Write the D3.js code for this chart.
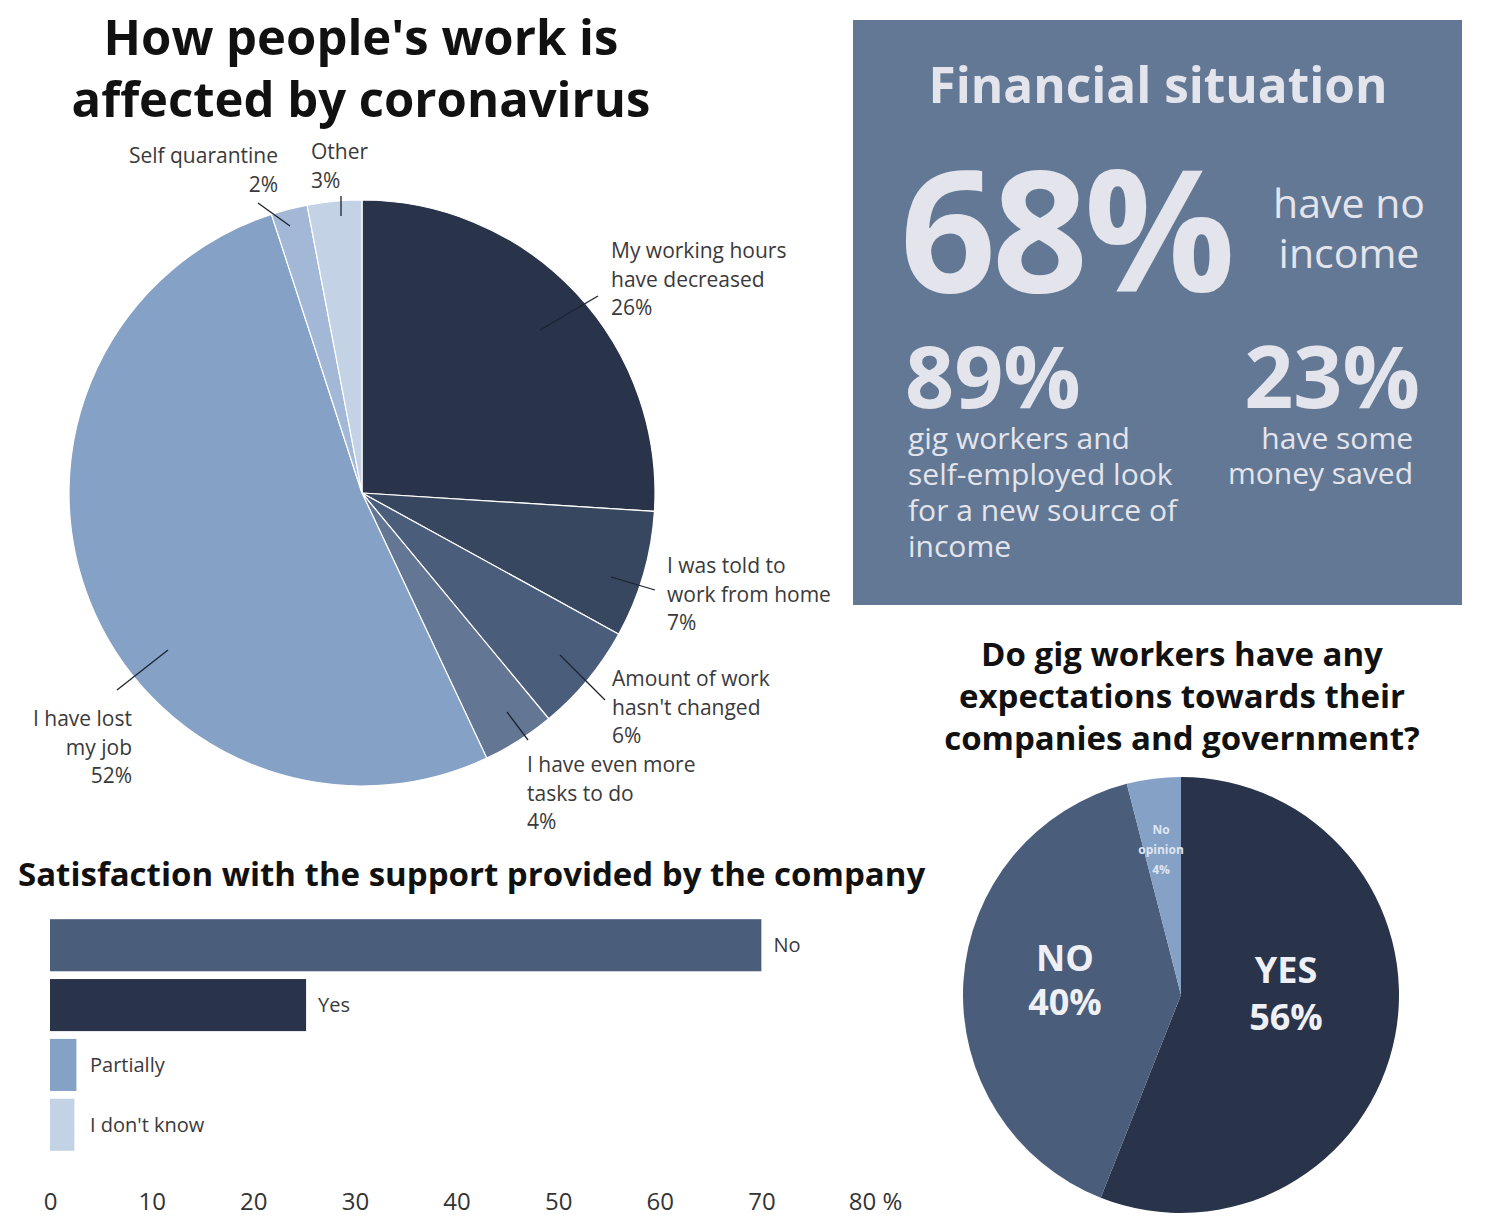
<!DOCTYPE html>
<html>
<head>
<meta charset="utf-8">
<script src="https://cdn.jsdelivr.net/npm/d3@7"></script>
<style>
  body { margin: 0; background: #fff; }
  svg { display: block; font-family: "Open Sans", "Noto Sans", sans-serif; }
</style>
</head>
<body>
<svg id="board" width="1498" height="1226"></svg>
<script>
// pie 1: how work is affected
var workCats = ["My working hours have decreased", "I was told to work from home", "Amount of work hasn't changed",
  "I have even more tasks to do", "I have lost my job", "Self quarantine", "Other"];
var workVals = [26, 7, 6, 4, 52, 2, 3];
var workLines = [["My working hours", "have decreased"], ["I was told to", "work from home"], ["Amount of work", "hasn't changed"],
  ["I have even more", "tasks to do"], ["I have lost", "my job"], ["Self quarantine"], ["Other"]];

// bar chart: satisfaction with company support
var satCats = ["No", "Yes", "Partially", "I don't know"];
var satVals = [70, 25.2, 2.6, 2.4];
var satTicks = [0, 10, 20, 30, 40, 50, 60, 70, 80];

// pie 2: expectations
var expCats = ["YES", "NO", "No opinion"];
var expVals = [56, 40, 4];

// financial situation numbers
var finBig = "68%";
var finSmall = ["89%", "23%"];

var colors = ["#29344a", "#37475f", "#4a5d7b", "#637794", "#86a1c6", "#a2b8d6", "#c4d2e6"];

var svg = d3.select("#board");

// ---------- pie 1 ----------
var cx = 362, cy = 493, R = 293;
var pie = d3.pie().sort(null).value(function(d){ return d; });
var arc = d3.arc().innerRadius(0).outerRadius(R);
var g1 = svg.append("g").attr("transform", "translate(" + cx + "," + cy + ")");
g1.selectAll("path").data(pie(workVals)).enter().append("path")
  .attr("d", arc)
  .attr("fill", function(d, i){ return colors[i]; })
  .attr("stroke", "#fff").attr("stroke-width", 1.2);

// label placement (layout only)
var lab1 = [
  {x: 611, y: 258, anchor: "start", l: [[540, 330], [598, 296]]},
  {x: 667, y: 573, anchor: "start", l: [[611, 577], [655, 590]]},
  {x: 612, y: 686, anchor: "start", l: [[560, 655], [605, 700]]},
  {x: 527, y: 772, anchor: "start", l: [[507, 712], [528, 740]]},
  {x: 132, y: 726, anchor: "end", l: [[168, 650], [117, 690]]},
  {x: 278, y: 163, anchor: "end", l: [[290, 226], [258, 203]]},
  {x: 311, y: 159, anchor: "start", l: [[341, 216], [341, 196]]}
];
var lab1Text = svg.append("g").attr("font-size", 21).attr("fill", "#3a3a3a");
lab1.forEach(function(p, i){
  var t = lab1Text.append("text").attr("text-anchor", p.anchor);
  var lines = workLines[i].concat([workVals[i] + "%"]);
  lines.forEach(function(s, k){
    t.append("tspan").attr("x", p.x).attr("y", p.y + k * 28.5).text(s);
  });
  svg.append("line").attr("x1", p.l[0][0]).attr("y1", p.l[0][1]).attr("x2", p.l[1][0]).attr("y2", p.l[1][1])
    .attr("stroke", "#1b2230").attr("stroke-width", 1.3);
});

// title
svg.append("text").attr("text-anchor", "middle").attr("font-size", 49).attr("font-weight", 700).attr("fill", "#111")
  .selectAll("tspan").data(["How people's work is", "affected by coronavirus"]).enter().append("tspan")
  .attr("x", 361).attr("y", function(d, i){ return 55 + i * 62; }).text(function(d){ return d; });

// ---------- financial box ----------
svg.append("rect").attr("x", 853).attr("y", 20).attr("width", 609).attr("height", 585).attr("fill", "#627894");
var fc = "#e4e4ec";
svg.append("text").attr("x", 1158).attr("y", 103).attr("text-anchor", "middle").attr("font-size", 49.5)
  .attr("font-weight", 700).attr("fill", fc).text("Financial situation");
svg.append("text").attr("x", 900).attr("y", 292).attr("font-size", 168).attr("font-weight", 700)
  .attr("fill", fc).attr("letter-spacing", -4).text(finBig);
svg.append("text").attr("text-anchor", "middle").attr("font-size", 41).attr("fill", fc)
  .selectAll("tspan").data(["have no", "income"]).enter().append("tspan")
  .attr("x", 1349).attr("y", function(d, i){ return 218 + i * 50; }).text(function(d){ return d; });
svg.append("text").attr("x", 905).attr("y", 408).attr("font-size", 86).attr("font-weight", 700)
  .attr("fill", fc).text(finSmall[0]);
svg.append("text").attr("x", 1420).attr("y", 408).attr("text-anchor", "end").attr("font-size", 86).attr("font-weight", 700)
  .attr("fill", fc).text(finSmall[1]);
svg.append("text").attr("font-size", 30).attr("fill", fc)
  .selectAll("tspan").data(["gig workers and", "self-employed look", "for a new source of", "income"]).enter().append("tspan")
  .attr("x", 908).attr("y", function(d, i){ return 449 + i * 36; }).text(function(d){ return d; });
svg.append("text").attr("font-size", 30).attr("fill", fc).attr("text-anchor", "end")
  .selectAll("tspan").data(["have some", "money saved"]).enter().append("tspan")
  .attr("x", 1413).attr("y", function(d, i){ return 449 + i * 35; }).text(function(d){ return d; });

// ---------- bar chart ----------
svg.append("text").attr("x", 18).attr("y", 886).attr("font-size", 33).attr("font-weight", 700).attr("fill", "#111")
  .text("Satisfaction with the support provided by the company");
var x = d3.scaleLinear().domain([0, 80]).range([50, 863]);
var y = d3.scaleBand().domain(satCats).range([918, 1152]).paddingInner(0.13).paddingOuter(0.02);
var barColors = [colors[2], colors[0], colors[4], colors[6]];
svg.selectAll("rect.bar").data(satVals).enter().append("rect").attr("class", "bar")
  .attr("x", x(0)).attr("y", function(d, i){ return y(satCats[i]); })
  .attr("width", function(d){ return x(d) - x(0); }).attr("height", y.bandwidth())
  .attr("fill", function(d, i){ return barColors[i]; });
svg.selectAll("text.blab").data(satVals).enter().append("text").attr("class", "blab")
  .attr("x", function(d){ return Math.max(x(d) + 12, 90); }).attr("y", function(d, i){ return y(satCats[i]) + y.bandwidth() / 2 + 7; })
  .attr("font-size", 20).attr("fill", "#3a3a3a").text(function(d, i){ return satCats[i]; });
var ax = svg.append("g").attr("transform", "translate(0,1191)")
  .call(d3.axisBottom(x).tickValues(satTicks).tickSize(0).tickPadding(0)
    .tickFormat(function(d){ return d === 80 ? "80 %" : d; }));
ax.select(".domain").remove();
ax.selectAll("text").attr("font-size", 24).attr("fill", "#333").attr("font-family", "Open Sans, sans-serif")
  .attr("dy", "0.8em")
  .attr("dx", function(d){ return d === 80 ? "0.5em" : 0; });

// ---------- pie 2 ----------
svg.append("text").attr("text-anchor", "middle").attr("font-size", 33).attr("font-weight", 700).attr("fill", "#111")
  .selectAll("tspan").data(["Do gig workers have any", "expectations towards their", "companies and government?"]).enter().append("tspan")
  .attr("x", 1182).attr("y", function(d, i){ return 666 + i * 42; }).text(function(d){ return d; });
var R2 = 218;
var arc2 = d3.arc().innerRadius(0).outerRadius(R2);
var g2 = svg.append("g").attr("transform", "translate(1181,995)");
var expColors = [colors[0], colors[2], colors[4]];
g2.selectAll("path").data(pie(expVals)).enter().append("path")
  .attr("d", arc2).attr("fill", function(d, i){ return expColors[i]; });
var wc = "#eef0f5";
g2.append("text").attr("text-anchor", "middle").attr("font-size", 36).attr("font-weight", 700).attr("fill", wc)
  .selectAll("tspan").data([expCats[0], expVals[0] + "%"]).enter().append("tspan")
  .attr("x", 105).attr("y", function(d, i){ return -12 + i * 47; }).text(function(d){ return d; });
g2.append("text").attr("text-anchor", "middle").attr("font-size", 36).attr("font-weight", 700).attr("fill", wc)
  .selectAll("tspan").data([expCats[1], expVals[1] + "%"]).enter().append("tspan")
  .attr("x", -116).attr("y", function(d, i){ return -24 + i * 44; }).text(function(d){ return d; });
g2.append("text").attr("text-anchor", "middle").attr("font-size", 12).attr("font-weight", 700).attr("fill", "#dfe6f1")
  .selectAll("tspan").data(["No", "opinion", expVals[2] + "%"]).enter().append("tspan")
  .attr("x", -20).attr("y", function(d, i){ return -161 + i * 20; }).text(function(d){ return d; });
</script>
</body>
</html>
